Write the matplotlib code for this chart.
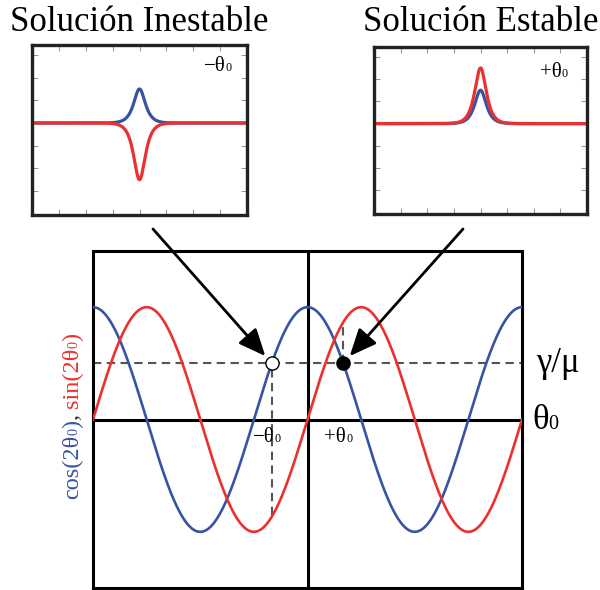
import numpy as np
import matplotlib
matplotlib.use("Agg")
import matplotlib.pyplot as plt

SERIF = ["Liberation Serif", "DejaVu Serif"]
BLUE = "#3953a4"
RED = "#ec3030"
SUB = 0.58  # relative size of the "0" index

# --- main panel data ---
theta_range = (-np.pi, np.pi)
gamma_over_mu = 0.5
theta0 = np.arccos(gamma_over_mu) / 2  # cos(2*theta) = gamma/mu at -theta0, +theta0
drop_unstable = (-0.85, gamma_over_mu)   # vertical guide below the unstable point
drop_stable = (gamma_over_mu, 0.82)      # vertical guide above the stable point

# --- inset pulse profiles ---
pulse_width = 0.19
unstable_amp = {"cos": 1.5, "sin": -2.5}
stable_amp = {"cos": 1.5, "sin": 2.5}
inset_xlim = (-4, 4)
inset_ylim = (-4.06, 3.44)

W, H = 600.0, 590.0
fig = plt.figure(figsize=(W / 100, H / 100), dpi=100)
renderer = fig.canvas.get_renderer()


def px_axes(x0, y0, x1, y1):
    return fig.add_axes([x0 / W, 1 - y1 / H, (x1 - x0) / W, (y1 - y0) / H])


def draw_runs(x, y, runs, rotation=0, align="left", zorder=7):
    """Write text runs along one baseline; (x, y) in pixels from the top-left.
    align refers to the run direction (left/center/right)."""
    texts = []
    for txt, size, col in runs:
        t = fig.text(0, 0, txt, rotation=rotation, rotation_mode="anchor",
                     ha="left", va="baseline", fontsize=size, color=col,
                     family=SERIF, zorder=zorder)
        texts.append(t)
    lengths = []
    for t in texts:
        bb = t.get_window_extent(renderer)
        lengths.append(bb.width if rotation == 0 else bb.height)
    total = sum(lengths)
    shift = {"left": 0.0, "center": 0.5, "right": 1.0}[align] * total
    pos = -shift
    for t, ln in zip(texts, lengths):
        if rotation == 0:
            t.set_position(((x + pos) / W, 1 - y / H))
        else:
            t.set_position((x / W, 1 - (y - pos) / H))
        pos += ln
    return texts


def theta_runs(prefix, size, col="black"):
    return [(prefix + "θ", size, col), ("0", size * SUB, col)]


ax = px_axes(93, 251, 522, 588)
th = np.linspace(*theta_range, 800)
ax.plot(th, np.cos(2 * th), color=BLUE, lw=1.9, zorder=3)
ax.plot(th, np.sin(2 * th), color=RED, lw=1.9, zorder=3)
ax.set_xlim(*theta_range)
ax.set_ylim(-1.5, 1.5)
ax.set_xticks([])
ax.set_yticks([])
for s in ax.spines.values():
    s.set_linewidth(2.2)
    s.set_color("black")
ax.axhline(0, color="black", lw=2.2, zorder=2)
ax.axvline(0, color="black", lw=2.2, zorder=2)

dash = dict(color="#555555", lw=1.5, ls=(0, (4, 2.6)), zorder=2)
ax.axhline(gamma_over_mu, **dash)
ax.plot([-theta0, -theta0], list(drop_unstable), **dash)
ax.plot([theta0, theta0], list(drop_stable), **dash)

ax.plot([-theta0], [gamma_over_mu], "o", ms=9.5, mfc="white", mec="black", mew=1.0, zorder=5)
ax.plot([theta0], [gamma_over_mu], "o", ms=9.5, mfc="black", mec="black", mew=1.0, zorder=5)

# labels of the two fixed points on the theta axis
fig.canvas.draw()
for sgn, pre in ((-1, "−"), (1, "+")):
    xd, _ = ax.transData.transform((sgn * theta0, 0))
    draw_runs(xd - 5, 442, theta_runs(pre, 15), align="center")

ax.annotate("γ/μ", xy=(1, gamma_over_mu), xycoords=("axes fraction", "data"),
            xytext=(10, 0), textcoords="offset points", ha="left", va="center",
            fontsize=25, family=SERIF, annotation_clip=False)
draw_runs(532, 429, theta_runs("", 25))

# arrows from the inset panels down to the fixed points
arrow = dict(arrowstyle="-|>,head_length=1.1,head_width=0.48", color="black",
             lw=2.0, shrinkA=0, shrinkB=7, mutation_scale=15)
ax.annotate("", xy=(-theta0, gamma_over_mu), xytext=(153, H - 229),
            textcoords="figure pixels", arrowprops=arrow, annotation_clip=False, zorder=6)
ax.annotate("", xy=(theta0, gamma_over_mu), xytext=(463, H - 229),
            textcoords="figure pixels", arrowprops=arrow, annotation_clip=False, zorder=6)

# rotated two-colour axis label
YL = 17.5
ylab = ([("cos(2θ", YL, BLUE), ("0", YL * SUB, BLUE), (")", YL, BLUE),
         (", ", YL, "#333333"),
         ("sin(2θ", YL, RED), ("0", YL * SUB, RED), (")", YL, RED)])
draw_runs(78, 416, ylab, rotation=90, align="center")


def inset(x0, y0, x1, y1, amps):
    a = px_axes(x0, y0, x1, y1)
    x = np.linspace(*inset_xlim, 800)
    prof = 1 / np.cosh(x / pulse_width)
    a.plot(x, amps["cos"] * prof, color=BLUE, lw=2.3)
    a.plot(x, amps["sin"] * prof, color=RED, lw=2.3)
    a.set_xlim(*inset_xlim)
    a.set_ylim(*inset_ylim)
    a.set_xticks(np.arange(-3, 4))
    a.set_yticks(np.arange(-3, 4))
    a.tick_params(direction="in", length=4, width=0.8, color="#999999",
                  top=True, right=True, labelleft=False, labelbottom=False)
    for s in a.spines.values():
        s.set_linewidth(2.4)
        s.set_color("#222222")
    return a


inset(32, 45, 247, 215, unstable_amp)
inset(374, 47, 587, 214, stable_amp)
draw_runs(232, 71, theta_runs("−", 15), align="right")
draw_runs(568, 77, theta_runs("+", 15), align="right")

fig.text(139.5 / W, 1 - 31 / H, "Solución Inestable", ha="center", va="baseline",
         fontsize=25, family=SERIF)
fig.text(481 / W, 1 - 31 / H, "Solución Estable", ha="center", va="baseline",
         fontsize=25, family=SERIF)

fig.savefig("out.png", dpi=100)
